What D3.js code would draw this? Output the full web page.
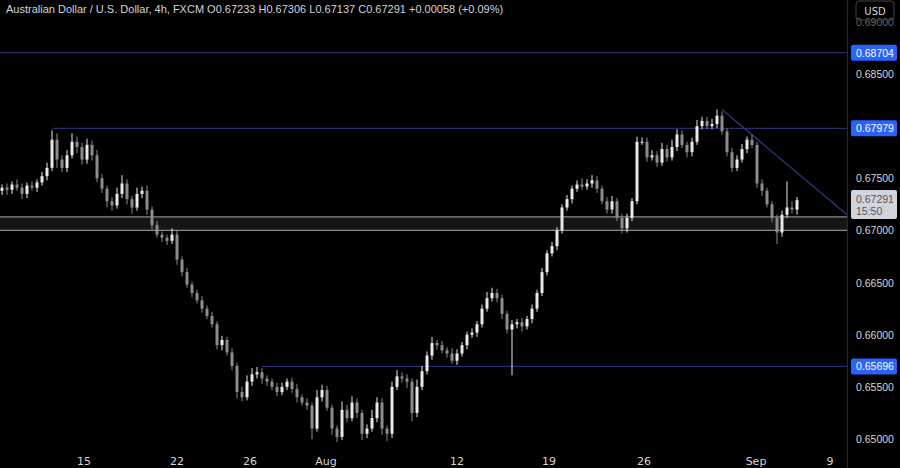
<!DOCTYPE html>
<html><head><meta charset="utf-8">
<script src="https://cdn.jsdelivr.net/npm/d3@7"></script>
<style>body{margin:0;background:#000;}svg{display:block;font-family:"DejaVu Sans",sans-serif;}</style>
</head><body><svg id="c" width="900" height="468"></svg>
<script>
const closes=[0.6741,0.6739,0.6744,0.6741,0.6735,0.6743,0.6741,0.6746,0.6752,0.6760,
0.6787,0.6768,0.6760,0.6772,0.6785,0.6780,0.6768,0.6782,0.6772,0.6750,
0.6740,0.6728,0.6724,0.6735,0.6745,0.6730,0.6722,0.6735,0.6738,0.6720,
0.6705,0.6696,0.6693,0.6690,0.6696,0.6672,0.6660,0.6648,0.6640,0.6633,
0.6625,0.6618,0.6610,0.6590,0.6595,0.6583,0.6570,0.6545,0.6540,0.6555,
0.6562,0.6564,0.6558,0.6555,0.6550,0.6545,0.6550,0.6555,0.6548,0.6540,
0.6535,0.6532,0.6510,0.6540,0.6547,0.6530,0.6510,0.6502,0.6528,0.6520,
0.6535,0.6525,0.6505,0.6510,0.6520,0.6535,0.6510,0.6505,0.6550,0.6560,
0.6558,0.6555,0.6525,0.6550,0.6565,0.6580,0.6592,0.6590,0.6585,0.6582,
0.6575,0.6582,0.6590,0.6600,0.6602,0.6610,0.6625,0.6635,0.6640,0.6635,
0.6620,0.6605,0.6610,0.6612,0.6608,0.6615,0.6625,0.6640,0.6660,0.6678,
0.6685,0.6700,0.6722,0.6730,0.6740,0.6744,0.6742,0.6745,0.6748,0.6740,
0.6728,0.6720,0.6728,0.6712,0.6702,0.6712,0.6728,0.6785,0.6785,0.6770,
0.6772,0.6765,0.6778,0.6770,0.6780,0.6792,0.6782,0.6775,0.6785,0.6800,
0.6805,0.6800,0.6802,0.6810,0.6795,0.6775,0.6760,0.6768,0.6778,0.6787,
0.6782,0.6745,0.6738,0.6725,0.6712,0.6698,0.6715,0.6722,0.6720,0.6729];
const firstOpen=0.6738;
// wick lengths in pips (0.0001)
const hiWick="3 4 3 5 4 3 4 3 4 5 9 6 4 5 8 5 4 6 4 5 4 3 4 6 8 4 3 6 4 5 3 4 3 3 6 4 3 4 3 3 4 3 4 3 4 3 4 3 5 6 6 5 4 3 3 4 4 3 4 5 3 4 3 7 5 4 3 3 8 5 6 4 3 4 8 5 4 3 5 6 4 4 3 7 5 4 6 3 4 3 5 4 3 3 4 3 4 6 5 4 3 3 4 3 4 3 4 3 4 3 4 3 3 4 3 4 6 4 5 4 3 4 5 3 4 4 3 5 4 4 5 4 6 4 7 5 4 3 4 6 4 4 5 6 4 3 4 4 5 3 5 3 4 3 3 3 4 25 6 3".split(" ").map(Number);
const loWick="4 5 4 3 5 4 3 4 3 4 3 8 4 4 3 6 5 4 5 4 4 6 5 3 4 5 6 3 4 5 4 3 4 4 3 5 4 3 4 3 4 3 3 4 5 3 4 6 4 3 4 4 5 4 3 4 3 3 4 5 3 4 10 3 4 3 6 5 3 4 3 5 6 4 3 4 6 7 4 3 4 6 8 4 3 3 4 4 3 4 3 4 3 4 3 4 3 3 3 4 5 4 44 4 5 3 4 3 3 3 3 4 3 3 4 3 3 3 4 4 3 4 4 3 5 4 3 3 3 4 3 4 3 4 3 4 3 5 4 3 3 3 3 4 3 4 4 3 3 4 3 4 5 3 4 11 4 3 4 5".split(" ").map(Number);
const priceTicks=[0.650,0.655,0.660,0.665,0.670,0.675,0.680,0.685,0.690];
const dateLabels=["15","22","26","Aug","12","19","26","Sep","9"];
const datePos=[16.4,35,49.6,64.8,91,109.4,128.4,150.8,165.6];
const levels=[0.68704,0.67979,0.65696];
const levelStart=[-1,10,52];
const zone=[0.6700,0.6713];
const trend=[[144,0.6816],[169,0.6715]];
const lastClose=0.67291;

const svg=d3.select("#c");
const W=847;
const x=d3.scaleLinear().domain([0,1]).range([2,7]);
const y=d3.scaleLinear().domain([0.65,0.685]).range([439,74]);
const data=closes.map((c,i)=>{const o=i?closes[i-1]:firstOpen;return{i,o,c,h:Math.max(o,c)+hiWick[i]*1e-4,l:Math.min(o,c)-loWick[i]*1e-4};});

const g=svg.append("g");
g.append("rect").attr("x",0).attr("width",W).attr("y",y(zone[1])).attr("height",y(zone[0])-y(zone[1])).attr("fill","#151515");
zone.forEach(z=>g.append("line").attr("x1",0).attr("x2",W).attr("y1",y(z)).attr("y2",y(z)).attr("stroke","#8a8a8a").attr("stroke-width",1.2));
levels.forEach((l,k)=>g.append("line").attr("x1",Math.max(0,x(levelStart[k]))).attr("x2",W).attr("y1",y(l)).attr("y2",y(l)).attr("stroke","#2c3580").attr("stroke-width",1));
g.append("line").attr("x1",x(trend[0][0])).attr("y1",y(trend[0][1])).attr("x2",x(trend[1][0])).attr("y2",y(trend[1][1])).attr("stroke","#2c3a8a").attr("stroke-width",1.2);

const cg=g.selectAll("g.c").data(data).join("g");
const col=d=>d.c>=d.o?"#e8e8e8":"#8c8c8c";
cg.append("line").attr("x1",d=>x(d.i)).attr("x2",d=>x(d.i)).attr("y1",d=>y(d.h)).attr("y2",d=>y(d.l)).attr("stroke",col).attr("stroke-width",1);
cg.append("rect").attr("x",d=>x(d.i)-1.5).attr("width",3).attr("y",d=>y(Math.max(d.o,d.c))).attr("height",d=>Math.max(1,Math.abs(y(d.o)-y(d.c)))).attr("fill",col);

svg.append("line").attr("x1",W+0.5).attr("x2",W+0.5).attr("y1",0).attr("y2",468).attr("stroke","#2a2a2a");
const fs=10.5, lx=856, ff="Liberation Sans, Arial, sans-serif";
const hidden=p=>levels.some(l=>Math.abs(y(l)-y(p))<12)||Math.abs(y(lastClose)-y(p))<14;
priceTicks.forEach(p=>{ if(hidden(p)) return;
 svg.append("text").attr("x",lx).attr("y",y(p)+4).attr("fill",p>0.689?"#666":"#d1d4dc").attr("font-size",fs).attr("font-family",ff).text(p.toFixed(5));});
levels.forEach(l=>{svg.append("rect").attr("x",851).attr("y",y(l)-8).attr("width",46).attr("height",16).attr("rx",2).attr("fill","#2962ff");
 svg.append("text").attr("x",lx).attr("y",y(l)+4).attr("fill","#fff").attr("font-size",fs).attr("font-family",ff).text(l.toFixed(5));});
svg.append("rect").attr("x",851).attr("y",y(lastClose)-10).attr("width",46).attr("height",29).attr("rx",2).attr("fill","#d1d4dc");
svg.append("text").attr("x",lx).attr("y",y(lastClose)+3).attr("fill","#555").attr("font-size",fs).attr("font-family",ff).text(lastClose.toFixed(5));
svg.append("text").attr("x",lx).attr("y",y(lastClose)+15).attr("fill","#555").attr("font-size",fs).attr("font-family",ff).text("15:50");
svg.append("rect").attr("x",856).attr("y",1).attr("width",38).attr("height",19).attr("rx",3).attr("fill","none").attr("stroke","#444");
svg.append("text").attr("x",875).attr("y",15).attr("text-anchor","middle").attr("fill","#d1d4dc").attr("font-size",10).text("USD");
dateLabels.forEach((t,k)=>svg.append("text").attr("x",x(datePos[k])).attr("y",465).attr("text-anchor","middle").attr("fill","#d1d4dc").attr("font-size",11).text(t));
svg.append("text").attr("x",6).attr("y",13).attr("fill","#d1d4dc").attr("font-size",11).attr("font-family",ff).text("Australian Dollar / U.S. Dollar, 4h, FXCM   O0.67233  H0.67306  L0.67137  C0.67291  +0.00058 (+0.09%)");
</script></body></html>
